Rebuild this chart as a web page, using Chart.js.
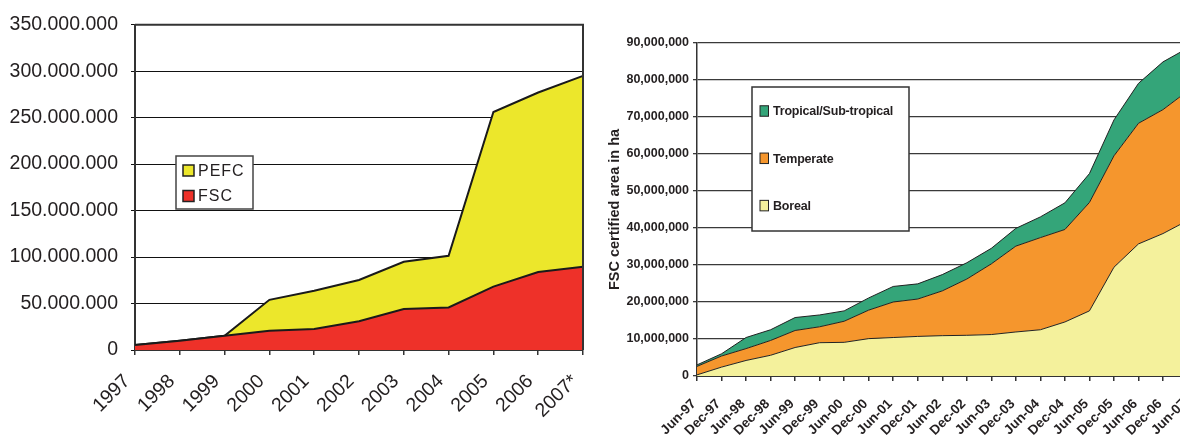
<!DOCTYPE html>
<html>
<head>
<meta charset="utf-8">
<script src="https://cdn.jsdelivr.net/npm/chart.js@4.4.1/dist/chart.umd.min.js"></script>
<style>
  html, body { margin: 0; padding: 0; background: #fff; overflow: hidden; width: 1180px; height: 441px; }
  #left { position: absolute; left: 0; top: 0; }
  #right { position: absolute; left: 600px; top: 0; }
</style>
</head>
<body>
<canvas id="left" width="600" height="441"></canvas>
<canvas id="right" width="614" height="441"></canvas>
<script>
// left chart: certified area by scheme (million ha)
const years = ['1997', '1998', '1999', '2000', '2001', '2002', '2003', '2004', '2005', '2006', '2007*'];
const fsc = [5.3, 9.9, 15.3, 20.6, 22.7, 30.9, 44, 45.8, 68.2, 83.9, 89.5];
const pefc = [0, 0, 0, 33.4, 41, 44.5, 50.9, 55.5, 187.8, 193.1, 205.5];

// right chart: FSC certified area by forest type (million ha)
const periods = ['Jun-97', 'Dec-97', 'Jun-98', 'Dec-98', 'Jun-99', 'Dec-99', 'Jun-00', 'Dec-00', 'Jun-01', 'Dec-01',
  'Jun-02', 'Dec-02', 'Jun-03', 'Dec-03', 'Jun-04', 'Dec-04', 'Jun-05', 'Dec-05', 'Jun-06', 'Dec-06', 'Jun-07'];
const boreal = [0.3, 2.4, 4.2, 5.6, 7.7, 9.0, 9.1, 10.1, 10.4, 10.7, 10.9, 11.0, 11.2, 11.9, 12.5, 14.6, 17.6, 29.4, 35.7, 38.5, 42.0];
const temperate = [2.3, 3.0, 3.2, 4.0, 4.6, 4.3, 5.7, 7.7, 9.6, 10.1, 12.1, 15.2, 19.1, 23.2, 24.9, 25.0, 29.3, 30.1, 32.6, 33.5, 35.0];
const tropical = [0.4, 0.6, 3.0, 2.9, 3.5, 3.2, 2.8, 3.3, 4.2, 4.1, 4.4, 4.4, 4.2, 4.8, 5.6, 7.2, 7.8, 9.7, 10.8, 12.9, 11.6];

const M = 1000000;
const toHa = arr => arr.map(v => v * M);
const group = (v, sep) => String(Math.round(v)).replace(/\B(?=(\d{3})+(?!\d))/g, sep);

// legend drawn as a box inside the plot, last dataset on top
const boxLegend = {
  id: 'boxLegend',
  beforeDatasetsDraw(chart, args, o) {
    const ctx = chart.ctx;
    ctx.save();
    ctx.fillStyle = '#fff';
    ctx.fillRect(o.x, o.y, o.w, o.h);
    ctx.strokeStyle = o.border;
    ctx.lineWidth = o.borderWidth;
    ctx.strokeRect(o.x, o.y, o.w, o.h);
    ctx.font = o.font;
    ctx.letterSpacing = o.spacing || '0px';
    ctx.textBaseline = 'middle';
    const items = chart.data.datasets.slice().reverse();
    items.forEach((ds, i) => {
      const cy = o.firstY + i * o.step;
      ctx.fillStyle = ds.backgroundColor;
      ctx.fillRect(o.sqX, cy - o.sqH / 2, o.sqW, o.sqH);
      ctx.strokeStyle = '#222';
      ctx.lineWidth = o.sqLine;
      ctx.strokeRect(o.sqX, cy - o.sqH / 2, o.sqW, o.sqH);
      ctx.fillStyle = '#231f20';
      ctx.fillText(ds.label, o.textX, cy + 1);
    });
    ctx.restore();
  }
};

const frame = {
  id: 'frame',
  afterDatasetsDraw(chart, args, o) {
    if (!o.draw) return;
    const a = chart.chartArea, ctx = chart.ctx;
    ctx.save();
    ctx.strokeStyle = o.color;
    ctx.lineWidth = o.width;
    ctx.beginPath();
    ctx.moveTo(a.left, a.top);
    ctx.lineTo(a.right, a.top);
    ctx.lineTo(a.right, a.bottom);
    ctx.stroke();
    ctx.restore();
  }
};

const leftFont = { family: "'Liberation Sans', Arial, sans-serif", size: 19.5 };

new Chart(document.getElementById('left'), {
  type: 'line',
  data: {
    labels: years,
    datasets: [
      { label: 'FSC', data: toHa(fsc), backgroundColor: '#EE3129', borderColor: '#1a1a1a', borderWidth: 2, fill: 'origin', pointRadius: 0, tension: 0 },
      { label: 'PEFC', data: toHa(pefc), backgroundColor: '#ECE72B', borderColor: '#1a1a1a', borderWidth: 2, fill: '-1', pointRadius: 0, tension: 0 }
    ]
  },
  plugins: [boxLegend, frame],
  options: {
    responsive: false,
    animation: false,
    layout: { padding: { top: 22, left: 0, right: 17, bottom: 0 } },
    plugins: {
      legend: { display: false },
      tooltip: { enabled: false },
      boxLegend: {
        x: 176, y: 156, w: 77, h: 53, border: '#444', borderWidth: 1.5,
        font: "16px 'Liberation Sans', Arial, sans-serif", spacing: '1px',
        firstY: 170.5, step: 25.5, sqX: 183, sqW: 11, sqH: 11, sqLine: 1.5, textX: 198
      },
      frame: { draw: true, color: '#333', width: 2 }
    },
    scales: {
      x: {
        offset: false,
        grid: { drawOnChartArea: false, tickLength: 5, color: '#333', lineWidth: 1.5 },
        border: { color: '#333', width: 2 },
        ticks: { color: '#231f20', font: leftFont, maxRotation: 45, minRotation: 45, padding: 15, labelOffset: -8, autoSkip: false },
        afterFit: s => { s.height = 91; s.paddingRight = 0; }
      },
      y: {
        stacked: true,
        min: 0, max: 350 * M,
        grid: { color: '#111', lineWidth: 1, tickLength: 4 },
        border: { color: '#333', width: 2 },
        ticks: { stepSize: 50 * M, color: '#231f20', font: leftFont, padding: 13, callback: v => group(v, '.') },
        afterFit: s => { s.width = 135; }
      }
    }
  }
});

const boldFamily = "'Liberation Sans', Arial, sans-serif";

new Chart(document.getElementById('right'), {
  type: 'line',
  data: {
    labels: periods,
    datasets: [
      { label: 'Boreal', data: toHa(boreal), backgroundColor: '#F4F19C', borderColor: '#222', borderWidth: 1, fill: 'origin', pointRadius: 0, tension: 0 },
      { label: 'Temperate', data: toHa(temperate), backgroundColor: '#F5962D', borderColor: '#222', borderWidth: 1, fill: '-1', pointRadius: 0, tension: 0 },
      { label: 'Tropical/Sub-tropical', data: toHa(tropical), backgroundColor: '#34A579', borderColor: '#222', borderWidth: 1, fill: '-1', pointRadius: 0, tension: 0 }
    ]
  },
  plugins: [boxLegend],
  options: {
    responsive: false,
    animation: false,
    layout: { padding: { top: 43, left: 0, right: 9, bottom: 0 } },
    plugins: {
      legend: { display: false },
      tooltip: { enabled: false },
      boxLegend: {
        x: 152, y: 87, w: 157, h: 144, border: '#333', borderWidth: 1.5,
        font: "bold 12.5px 'Liberation Sans', Arial, sans-serif", spacing: '-0.2px',
        firstY: 111, step: 47.3, sqX: 160, sqW: 8.5, sqH: 10.5, sqLine: 1, textX: 173
      }
    },
    scales: {
      x: {
        offset: false,
        grid: { drawOnChartArea: false, tickLength: 5, color: '#333', lineWidth: 1.5 },
        border: { color: '#333', width: 2 },
        ticks: { color: '#231f20', font: { family: boldFamily, size: 13.5, weight: 'bold' }, maxRotation: 45, minRotation: 45, padding: 15, labelOffset: -3, autoSkip: false },
        afterFit: s => { s.height = 65; }
      },
      y: {
        stacked: true,
        min: 0, max: 90 * M,
        grid: { color: '#3a3a3a', lineWidth: 1.3, tickLength: 4 },
        border: { color: '#333', width: 1.5 },
        ticks: { stepSize: 10 * M, color: '#231f20', font: { family: boldFamily, size: 12.5, weight: 'bold' }, padding: 4, callback: v => group(v, ',') },
        title: {
          display: true, text: 'FSC certified area in ha', color: '#231f20', padding: { top: 6, bottom: 0 },
          font: { family: boldFamily, size: 14.5, weight: 'bold' }
        },
        afterFit: s => { s.width = 97; }
      }
    }
  }
});
</script>
</body>
</html>
